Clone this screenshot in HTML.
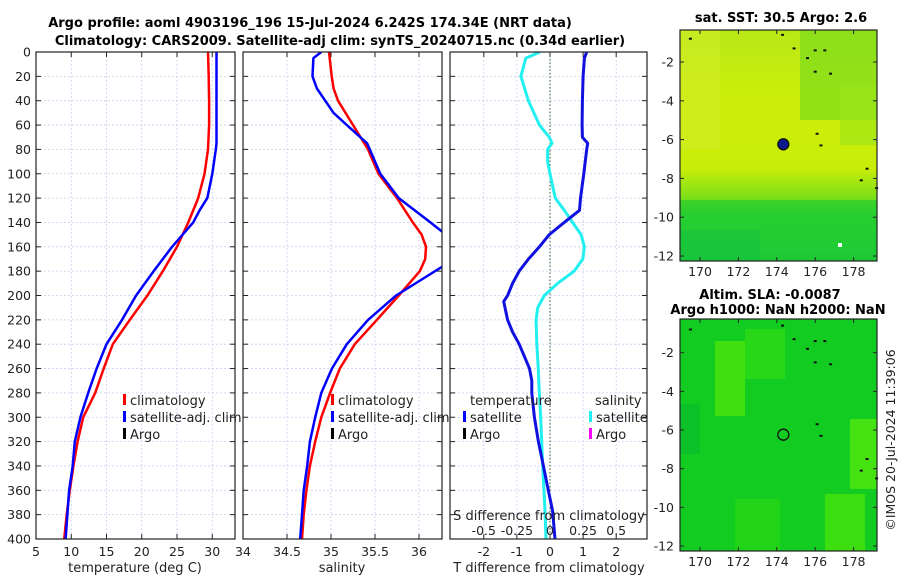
<!DOCTYPE html>
<html><head><meta charset="utf-8">
<style>
html,body{margin:0;padding:0;background:#fff;}
svg{display:block;font-family:"DejaVu Sans","Liberation Sans",sans-serif;}
</style></head>
<body>
<svg id="fig" width="900" height="580" viewBox="0 0 900 580" xmlns="http://www.w3.org/2000/svg">
<defs>
<clipPath id="c1"><rect x="36" y="52" width="199" height="487"/></clipPath>
<clipPath id="c2"><rect x="243" y="52" width="199" height="487"/></clipPath>
<clipPath id="c3"><rect x="450" y="52" width="197" height="487"/></clipPath>
<linearGradient id="sstg" x1="0" y1="0" x2="0" y2="1">
<stop offset="0" stop-color="#b8e818"/><stop offset="0.3" stop-color="#ccee08"/><stop offset="0.6" stop-color="#c8ee08"/><stop offset="0.72" stop-color="#80e018"/><stop offset="0.8" stop-color="#2fd22a"/><stop offset="1" stop-color="#18c83a"/>
</linearGradient>
</defs>
<text x="310" y="27" text-anchor="middle" font-size="13" font-weight="bold">Argo profile: aoml 4903196_196 15-Jul-2024 6.242S 174.34E (NRT data)</text>
<text x="340" y="45" text-anchor="middle" font-size="13" font-weight="bold">Climatology: CARS2009. Satellite-adj clim: synTS_20240715.nc (0.34d earlier)</text>
<g id="panels"></g>
<g id="maps"></g>
<text transform="translate(895,440) rotate(-90)" text-anchor="middle" font-size="12.5" fill="#222">©IMOS 20-Jul-2024 11:39:06</text>
</svg>
<script>
// ---- data ----
const depthsT = [0,20,40,60,80,100,120,140,160,180,200,220,240,260,280,300,320,340,360,380,400];
const tempClim = [29.4,29.5,29.55,29.55,29.4,28.9,28.0,26.6,25.0,23.0,20.8,18.3,15.9,14.6,13.4,11.7,10.9,10.3,9.8,9.35,9.0];
const depthsTS = [0,20,40,60,75,80,100,120,130,140,160,180,200,220,240,260,280,300,320,340,360,380,400];
const tempSat = [30.6,30.6,30.6,30.6,30.6,30.5,30.0,29.3,28.2,27.3,24.3,21.7,19.2,17.2,15.0,13.6,12.4,11.3,10.5,10.2,9.7,9.45,9.2];
const depthsS = [0,20,30,40,60,80,100,120,140,150,160,170,180,200,220,240,260,280,300,320,340,360,380,400];
const salClim = [34.977,35.008,35.03,35.08,35.25,35.42,35.54,35.75,35.93,36.03,36.08,36.07,36.01,35.77,35.52,35.27,35.10,34.99,34.89,34.82,34.76,34.72,34.69,34.67];
const depthsSS = [0,5,20,30,50,60,75,100,120,140,148,160,170,176,200,220,240,260,280,300,320,340,360,380,400];
const salSat = [34.89,34.80,34.79,34.84,35.03,35.18,35.41,35.56,35.77,36.13,36.27,36.45,36.45,36.27,35.74,35.42,35.18,35.01,34.89,34.82,34.76,34.73,34.69,34.67,34.65];
const depthsDT = [0,5,20,40,60,70,75,80,100,120,130,140,150,160,170,180,190,200,205,220,230,240,260,270,280,300,320,340,360,377,400];
const tDiff = [1.11,1.04,1.0,0.98,0.97,0.98,1.14,1.11,1.02,0.92,0.89,0.43,-0.02,-0.32,-0.65,-0.93,-1.13,-1.28,-1.40,-1.28,-1.13,-0.93,-0.62,-0.55,-0.55,-0.47,-0.35,-0.2,-0.05,0.08,0.15];
const depthsDS = [0,5,20,40,60,70,75,80,90,100,110,120,130,140,150,160,170,180,190,200,210,220,240,260,270,300,340,377,400];
const sDiff = [-0.076,-0.183,-0.22,-0.163,-0.08,-0.005,0.015,-0.018,-0.018,0,0.02,0.04,0.108,0.17,0.235,0.26,0.248,0.183,0.058,-0.043,-0.093,-0.105,-0.1,-0.088,-0.085,-0.07,-0.055,-0.038,-0.03];
const depthTicks = [0,20,40,60,80,100,120,140,160,180,200,220,240,260,280,300,320,340,360,380,400];
const tempTicks = [5,10,15,20,25,30];
const salTicks = [34,34.5,35,35.5,36];
const tdTicks = [-2,-1,0,1,2];
const sdTicks = [-0.5,-0.25,0,0.25,0.5];
const lonTicks = [170,172,174,176,178];
const latTicks = [-2,-4,-6,-8,-10,-12];
const argoPos = [174.34,-6.242];

// ---- axes ----
const NS='http://www.w3.org/2000/svg';
const Y0=52, Y1=539;
const yD = d => Y0 + d*(Y1-Y0)/400;
const x1 = t => 36 + (t-5)*7.05;
const x2 = s => 243 + (s-34)*88;
const x3 = t => 550 + t*33.1;
const x3s = s => 550 + s*132.4;
function mk(tag, attrs, parent, txt){const e=document.createElementNS(NS,tag);for(const k in attrs)e.setAttribute(k,attrs[k]);if(txt!==undefined)e.textContent=txt;parent.appendChild(e);return e;}
const P=document.getElementById('panels');

function panel(name, L, R, xt, xf, clip){
  const g=mk('g',{},P);
  
  
  xt.forEach(v=>{const x=xf(v);if(x>L+1&&x<R-1)mk('line',{x1:x,x2:x,y1:Y0,y2:Y1,stroke:'#c8cff0','stroke-width':0.8,'stroke-dasharray':'2,2'},g);});
  depthTicks.forEach(d=>{const y=yD(d);if(d>0&&d<400)mk('line',{x1:L,x2:R,y1:y,y2:y,stroke:'#c8cff0','stroke-width':0.8,'stroke-dasharray':'2,2'},g);
    mk('line',{x1:L,x2:L+5,y1:y,y2:y,stroke:'#222'},g);mk('line',{x1:R-5,x2:R,y1:y,y2:y,stroke:'#222'},g);});
  xt.forEach(v=>{const x=xf(v);mk('line',{x1:x,x2:x,y1:Y1,y2:Y1-5,stroke:'#222'},g);mk('line',{x1:x,x2:x,y1:Y0,y2:Y0+5,stroke:'#222'},g);});
  return g;
}
function series(g, ds, vs, xf, color, w, clip, name){
  let dstr='';
  for(let i=0;i<ds.length;i++){dstr+=(i?'L':'M')+xf(vs[i]).toFixed(1)+','+yD(ds[i]).toFixed(1);}
  const p=mk('path',{d:dstr,fill:'none',stroke:color,'stroke-width':w,'stroke-linejoin':'round','clip-path':'url(#'+clip+')'},g);
  
  
}
function frame(g,L,R){mk('rect',{x:L,y:Y0,width:R-L,height:Y1-Y0,fill:'none',stroke:'#222','stroke-width':1.2},g);}
function legendRow(g,x,y,color,label,name){
  mk('rect',{x:x,y:y-11,width:3,height:11,fill:color},g);
  const t=mk('text',{x:x+7,y:y,'font-size':13,fill:'#222'},g,label);
  
  
}

// panel 1
let g1=panel('temperature-panel',36,235,tempTicks,x1,'c1');
series(g1,depthsT,tempClim,x1,'#ff0000',2.5,'c1','temp-climatology-line');
series(g1,depthsTS,tempSat,x1,'#0000ff',2.5,'c1','temp-satellite-line');
frame(g1,36,235);
depthTicks.forEach(d=>mk('text',{x:31,y:yD(d)+4.5,'text-anchor':'end','font-size':12.5,fill:'#222'},g1,d));
tempTicks.forEach(v=>mk('text',{x:x1(v),y:556,'text-anchor':'middle','font-size':12.5,fill:'#222'},g1,v));
mk('text',{x:135,y:572,'text-anchor':'middle','font-size':13,fill:'#222'},g1,'temperature (deg C)');
legendRow(g1,123,405,'#ff0000','climatology','legend-climatology');
legendRow(g1,123,422,'#0000ff','satellite-adj. clim','legend-satellite-adj');
legendRow(g1,123,439,'#000','Argo','legend-argo');

// panel 2
let g2=panel('salinity-panel',243,442,salTicks,x2,'c2');
series(g2,depthsS,salClim,x2,'#ff0000',2.5,'c2','sal-climatology-line');
series(g2,depthsSS,salSat,x2,'#0000ff',2.5,'c2','sal-satellite-line');
frame(g2,243,442);
salTicks.forEach(v=>mk('text',{x:x2(v),y:556,'text-anchor':'middle','font-size':12.5,fill:'#222'},g2,v));
mk('text',{x:342,y:572,'text-anchor':'middle','font-size':13,fill:'#222'},g2,'salinity');
legendRow(g2,331,405,'#ff0000','climatology','legend2-climatology');
legendRow(g2,331,422,'#0000ff','satellite-adj. clim','legend2-satellite-adj');
legendRow(g2,331,439,'#000','Argo','legend2-argo');

// panel 3
let g3=panel('difference-panel',450,647,tdTicks,x3,'c3');
mk('line',{x1:550,x2:550,y1:Y0,y2:Y1,stroke:'#3a5a2a','stroke-width':1,'stroke-dasharray':'1.5,2'},g3);
series(g3,depthsDS,sDiff,x3s,'#22f0f0',3,'c3','sal-diff-line');
series(g3,depthsDT,tDiff,x3,'#1010e0',3,'c3','temp-diff-line');
frame(g3,450,647);
tdTicks.forEach(v=>mk('text',{x:x3(v),y:556,'text-anchor':'middle','font-size':12.5,fill:'#222'},g3,v));
mk('text',{x:549,y:572,'text-anchor':'middle','font-size':13,fill:'#222'},g3,'T difference from climatology');
mk('text',{x:549,y:520,'text-anchor':'middle','font-size':13,fill:'#222'},g3,'S difference from climatology');
sdTicks.forEach(v=>mk('text',{x:x3s(v),y:535,'text-anchor':'middle','font-size':12.5,fill:'#222'},g3,v));
mk('text',{x:470,y:405,'font-size':13,fill:'#222'},g3,'temperature');
mk('text',{x:595,y:405,'font-size':13,fill:'#222'},g3,'salinity');
legendRow(g3,463,422,'#0000ff','satellite','legend3-temp-satellite');
legendRow(g3,463,439,'#000','Argo','legend3-temp-argo');
legendRow(g3,589,422,'#22f0f0','satellite','legend3-sal-satellite');
legendRow(g3,589,439,'#ff00ff','Argo','legend3-sal-argo');

// maps
const M=document.getElementById('maps');
function map(name,top,bot,yM2,title1,title2,sst){
  const g=mk('g',{},M);
  
  
  const lx = lon => 700 + (lon-170)*19.2;
  const ly = lat => yM2 + (-2-lat)*((bot - 5 - yM2)/10);
  if(sst){
    mk('rect',{x:680,y:top,width:197,height:bot-top,fill:'url(#sstg)'},g);
    mk('rect',{x:680,y:top,width:40,height:120,fill:'#d0ec28',opacity:0.6},g);
    mk('rect',{x:800,y:top,width:77,height:90,fill:'#7cdc1c',opacity:0.7},g);
    mk('rect',{x:840,y:top+55,width:37,height:60,fill:'#9ae41a',opacity:0.6},g);
    mk('rect',{x:680,y:top+170,width:197,height:bot-top-170,fill:'#22cc32',opacity:0.6},g);
    mk('rect',{x:680,y:top+200,width:80,height:bot-top-200,fill:'#14c040',opacity:0.5},g);
    mk('rect',{x:838,y:bot-18,width:4,height:4,fill:'#fff'},g);
  } else {
    mk('rect',{x:680,y:top,width:197,height:bot-top,fill:'#12cc22'},g);
    mk('rect',{x:715,y:top+22,width:30,height:75,fill:'#40e010'},g);
    mk('rect',{x:745,y:top+10,width:40,height:50,fill:'#28d818'},g);
    mk('rect',{x:850,y:top+100,width:27,height:70,fill:'#44e210'},g);
    mk('rect',{x:825,y:top+175,width:40,height:bot-top-175,fill:'#3cde10'},g);
    mk('rect',{x:735,y:top+180,width:45,height:bot-top-180,fill:'#22d418'},g);
    mk('rect',{x:680,y:top+85,width:20,height:50,fill:'#0cc028'},g);
  }
  [[174.3,-0.6],[174.9,-1.3],[175.6,-1.8],[176,-1.4],[176.5,-1.4],[176,-2.5],[176.8,-2.6],[176.1,-5.7],[176.3,-6.3],[178.7,-7.5],[178.4,-8.1],[179.2,-8.5],[169.5,-0.8]].forEach(p=>mk('rect',{x:lx(p[0])-1.5,y:ly(p[1])-1,width:3,height:2,fill:'#111'},g));
  const c=mk('circle',{cx:lx(argoPos[0]),cy:ly(argoPos[1]),r:5.5,fill:sst?'#0a1a8a':'none',stroke:'#111','stroke-width':1.3},g);
  
  
  mk('rect',{x:680,y:top,width:197,height:bot-top,fill:'none',stroke:'#222','stroke-width':1.2},g);
  lonTicks.forEach(v=>{const x=lx(v);mk('line',{x1:x,x2:x,y1:bot,y2:bot-4,stroke:'#222'},g);mk('line',{x1:x,x2:x,y1:top,y2:top+4,stroke:'#222'},g);
    mk('text',{x:x,y:bot+15,'text-anchor':'middle','font-size':12.5,fill:'#222'},g,v);});
  latTicks.forEach(v=>{const y=ly(v);mk('line',{x1:680,x2:684,y1:y,y2:y,stroke:'#222'},g);mk('line',{x1:873,x2:877,y1:y,y2:y,stroke:'#222'},g);
    mk('text',{x:674,y:y+4.5,'text-anchor':'end','font-size':12.5,fill:'#222'},g,v);});
  if(title2){
    mk('text',{x:770,y:top-20,'text-anchor':'middle','font-size':13,'font-weight':'bold'},g,title1);
    mk('text',{x:778,y:top-5,'text-anchor':'middle','font-size':13,'font-weight':'bold'},g,title2);
  } else {
    mk('text',{x:781,y:top-8,'text-anchor':'middle','font-size':13,'font-weight':'bold'},g,title1);
  }
}
map('sst-map',30,261,62,'sat. SST: 30.5 Argo: 2.6',null,true);
map('sla-map',319,551,352.7,'Altim. SLA: -0.0087','Argo h1000: NaN h2000: NaN',false);
</script>
</body></html>
